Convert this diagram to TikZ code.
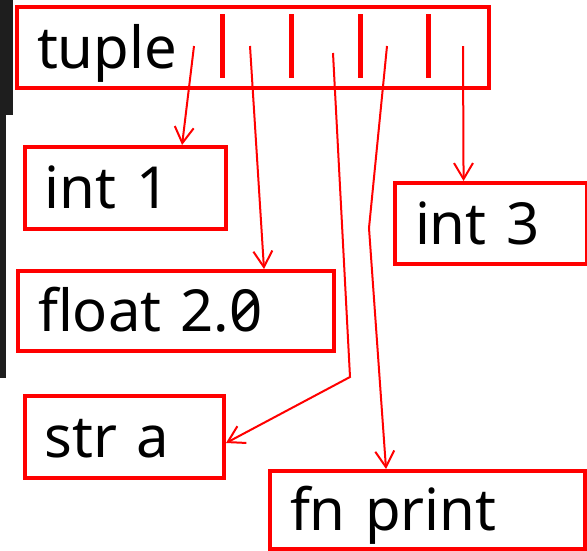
\documentclass[tikz,border=0pt]{standalone}
\usepackage{fontspec}
\setmainfont{Noto Sans}[RawFeature=+zero]
\usepackage{tikz}
\usetikzlibrary{arrows.meta,calc}
\definecolor{editorbg}{HTML}{1E1E1E}
\tikzstyle{cell} = [draw=red,line width=4pt,anchor=north west,inner xsep=20pt,align=left,text height=43pt,text depth=2pt,font=\fontsize{58}{62}\selectfont]
\tikzstyle{bar} = [draw=red,line width=5pt]
\tikzstyle{ptr} = [draw=red,line width=2pt,-{Straight Barb[length=16pt,width=19pt]}]

\begin{document}
\begin{tikzpicture}[x=1pt,y=-1pt]
	\useasboundingbox (0,0) rectangle (587,550);
	\fill[editorbg] (0,0) rectangle (13,115);
	\fill[editorbg] (0,115) rectangle (6,378);
	\node[cell,text width=432pt,minimum height=81pt] (tuple) at (15,5) {tuple};
	\node[cell,text width=161pt,minimum height=82pt] (int1) at (23,145) {int 1};
	\node[cell,text width=152pt,minimum height=81pt] (int3) at (393,181) {int 3};
	\node[cell,text width=276pt,minimum height=80pt] (float) at (16,269) {float 2.0};
	\node[cell,text width=159pt,minimum height=82pt] (str) at (23,394) {str a};
	\node[cell,text width=275pt,minimum height=78pt] (fn) at (268,469) {fn print};
	\foreach \x in {222,291,360,428}
		\draw[bar] (\x,14) -- (\x,78);
	\coordinate (s1) at (194,46);
	\coordinate (s2) at (250,46);
	\coordinate (s3) at (333,53);
	\coordinate (s4) at (387,46);
	\coordinate (s5) at (463,46);
	\draw[ptr] (s1) -- ($(int1.north west)!0.776!(int1.north east)$);
	\draw[ptr] (s2) -- ($(float.north west)!0.775!(float.north east)$);
	\draw[ptr] (s3) -- (350,377) -- ([yshift=-6pt]str.east);
	\draw[ptr] (s4) -- (369,228) -- ($(fn.north west)!0.37!(fn.north east)$);
	\draw[ptr] (s5) -- ($(int3.north west)!0.36!(int3.north east)$);
\end{tikzpicture}
\end{document}
